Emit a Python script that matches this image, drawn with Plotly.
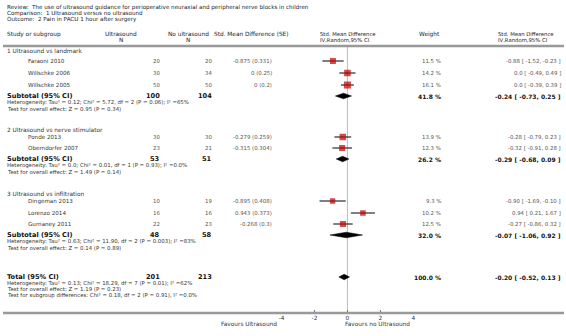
import plotly.graph_objects as go

W, H = 566, 336

# ---------------- data ----------------
group_names = ["1 Ultrasound vs landmark", "2 Ultrasound vs nerve stimulator", "3 Ultrasound vs infiltration"]
studies = [
    ["Faraoni 2010", "Willschke 2006", "Willschke 2005"],
    ["Ponde 2013", "Oberndorfer 2007"],
    ["Dingeman 2013", "Lorenzo 2014", "Gurnaney 2011"],
]
n_us = [[20, 30, 50], [30, 23], [10, 16, 22]]
n_no = [[20, 34, 50], [30, 21], [19, 16, 23]]
smd_se_text = [["-0.875 (0.331)", "0 (0.25)", "0 (0.2)"],
               ["-0.279 (0.259)", "-0.315 (0.304)"],
               ["-0.895 (0.408)", "0.943 (0.373)", "-0.268 (0.3)"]]
weight = [[11.5, 14.2, 16.1], [13.9, 12.3], [9.3, 10.2, 12.5]]
est = [[-0.88, 0.0, 0.0], [-0.28, -0.32], [-0.90, 0.94, -0.27]]
lo = [[-1.52, -0.49, -0.39], [-0.79, -0.91], [-1.69, 0.21, -0.86]]
hi = [[-0.23, 0.49, 0.39], [0.23, 0.28], [-0.10, 1.67, 0.32]]
est_txt = [["-0.88", "0.0", "0.0"], ["-0.28", "-0.32"], ["-0.90", "0.94", "-0.27"]]
lo_txt = [["-1.52", "-0.49", "-0.39"], ["-0.79", "-0.91"], ["-1.69", "0.21", "-0.86"]]
hi_txt = [["-0.23", "0.49", "0.39"], ["0.23", "0.28"], ["-0.10", "1.67", "0.32"]]

sub_n_us = [100, 53, 48]
sub_n_no = [104, 51, 58]
sub_weight = ["41.8", "26.2", "32.0"]
sub_est = [-0.24, -0.29, -0.07]
sub_lo = [-0.73, -0.68, -1.06]
sub_hi = [0.25, 0.09, 0.92]
sub_est_txt = ["-0.24", "-0.29", "-0.07"]
sub_lo_txt = ["-0.73", "-0.68", "-1.06"]
sub_hi_txt = ["0.25", "0.09", "0.92"]
sub_het = ["Heterogeneity: Tau² = 0.12; Chi² = 5.72, df = 2 (P = 0.06); I² =65%",
           "Heterogeneity: Tau² = 0.0; Chi² = 0.01, df = 1 (P = 0.93); I² =0.0%",
           "Heterogeneity: Tau² = 0.63; Chi² = 11.90, df = 2 (P = 0.003); I² =83%"]
sub_test = ["Test for overall effect: Z = 0.95 (P = 0.34)",
            "Test for overall effect: Z = 1.49 (P = 0.14)",
            "Test for overall effect: Z = 0.14 (P = 0.89)"]

tot_n_us, tot_n_no = 201, 213
tot_weight = "100.0"
tot_est, tot_lo, tot_hi = -0.20, -0.52, 0.13
tot_txt = ("-0.20", "-0.52", "0.13")
tot_lines = ["Heterogeneity: Tau² = 0.13; Chi² = 18.29, df = 7 (P = 0.01); I² =62%",
             "Test for overall effect: Z = 1.19 (P = 0.23)",
             "Test for subgroup differences: Chi² = 0.18, df = 2 (P = 0.91), I² =0.0%"]

title_lines = ["Review:  The use of ultrasound guidance for perioperative neuraxial and peripheral nerve blocks in children",
               "Comparison:  1 Ultrasound versus no ultrasound",
               "Outcome:  2 Pain in PACU 1 hour after surgery"]
tick_vals = [-4, -2, 0, 2, 4]
favours_left = "Favours Ultrasound"
favours_right = "Favours no Ultrasound"

# ---------------- layout positions (pixels) ----------------
title_y = [7, 13, 19]
hdr_y1, hdr_y2, hdr_line_y = 34, 40, 46
group_head_y = [51, 130, 194]
study_y = [[61, 73, 85], [137, 148], [201, 213, 224]]
sub_y = [96, 159, 235]
tot_y = 277
axis_y = 313

FONT = "DejaVu Sans"
C_TXT = "#333333"
C_VAL = "#555555"
C_BOLD = "#111111"
RED = "#C00000"

X_NAME, X_STUDY = 2, 23
X_NUS, X_NNO, X_SE = 160, 213, 273
X_W, X_CI = 444, 565

annots = []


def txt(x, y, s, size=5.6, color=C_TXT, anchor="left", bold=False):
    if bold:
        s = "<b>" + s + "</b>"
    annots.append(dict(x=x / W, y=y, xref="paper", yref="y", text=s, showarrow=False,
                       xanchor=anchor, yanchor="middle", align=anchor,
                       font=dict(family=FONT, size=size, color=color)))


for s, y in zip(title_lines, title_y):
    txt(X_NAME, y, s, size=5.6, color="#222222")

# headers
txt(X_NAME, hdr_y1, "Study or subgroup", 5.8, "#222222")
txt(119, hdr_y1, "Ultrasound", 5.8, "#222222", "center")
txt(119, hdr_y2, "N", 5.8, "#222222", "center")
txt(187, hdr_y1, "No ultrasound", 5.8, "#222222", "center")
txt(187, hdr_y2, "N", 5.8, "#222222", "center")
txt(251, hdr_y1, "Std. Mean Difference (SE)", 5.8, "#222222", "center")
txt(318, hdr_y1, "Std. Mean Difference", 5.3, "#222222")
txt(318, hdr_y2, "IV,Random,95% CI", 5.3, "#222222")
txt(418, hdr_y1, "Weight", 5.8, "#222222")
txt(497, hdr_y1, "Std. Mean Difference", 5.3, "#222222")
txt(497, hdr_y2, "IV,Random,95% CI", 5.3, "#222222")

sq_x, sq_y, sq_s = [], [], []
ci_x, ci_y = [], []
dia_x, dia_y = [], []


def diamond(e, l, h, y, hh=2.8):
    dia_x.extend([l, e, h, e, l, None])
    dia_y.extend([y, y - hh, y, y + hh, y, None])


for g in range(3):
    txt(X_NAME, group_head_y[g], group_names[g], 5.8, C_TXT)
    for i, name in enumerate(studies[g]):
        y = study_y[g][i]
        txt(X_STUDY, y, name, 5.6, C_TXT)
        txt(X_NUS, y, str(n_us[g][i]), 5.4, C_VAL, "right")
        txt(X_NNO, y, str(n_no[g][i]), 5.4, C_VAL, "right")
        txt(X_SE, y, smd_se_text[g][i], 5.4, C_VAL, "right")
        txt(X_W, y, f"{weight[g][i]} %", 5.4, C_VAL, "right")
        txt(X_CI, y, f"{est_txt[g][i]} [ {lo_txt[g][i]}, {hi_txt[g][i]} ]", 5.4, C_VAL, "right")
        sq_x.append(est[g][i]); sq_y.append(y); sq_s.append(1.75 * weight[g][i] ** 0.5)
        ci_x.extend([lo[g][i], hi[g][i], None]); ci_y.extend([y, y, None])
    y = sub_y[g]
    txt(X_NAME, y, "Subtotal (95% CI)", 6.6, C_BOLD, bold=True)
    txt(X_NUS, y, str(sub_n_us[g]), 6.6, C_BOLD, "right", True)
    txt(X_NNO, y, str(sub_n_no[g]), 6.6, C_BOLD, "right", True)
    txt(X_W, y, f"{sub_weight[g]} %", 6.0, C_BOLD, "right", True)
    txt(X_CI, y, f"{sub_est_txt[g]} [ {sub_lo_txt[g]}, {sub_hi_txt[g]} ]", 6.0, C_BOLD, "right", True)
    txt(X_NAME, y + 6, sub_het[g], 5.4, C_TXT)
    txt(X_NAME, y + 13, sub_test[g], 5.4, C_TXT)
    diamond(sub_est[g], sub_lo[g], sub_hi[g], y)

txt(X_NAME, tot_y, "Total (95% CI)", 6.6, C_BOLD, bold=True)
txt(X_NUS, tot_y, str(tot_n_us), 6.6, C_BOLD, "right", True)
txt(X_NNO, tot_y, str(tot_n_no), 6.6, C_BOLD, "right", True)
txt(X_W, tot_y, f"{tot_weight} %", 6.0, C_BOLD, "right", True)
txt(X_CI, tot_y, f"{tot_txt[0]} [ {tot_txt[1]}, {tot_txt[2]} ]", 6.0, C_BOLD, "right", True)
for k, s in enumerate(tot_lines):
    txt(X_NAME, tot_y + 6 + 6 * k, s, 5.4, C_TXT)
diamond(tot_est, tot_lo, tot_hi, tot_y)

txt(278, 324, favours_left, 5.8, C_TXT, "right")
txt(343, 324, favours_right, 5.8, C_TXT, "left")

fig = go.Figure()
fig.add_trace(go.Scatter(x=ci_x, y=ci_y, mode="lines", line=dict(color="black", width=1),
                         hoverinfo="skip", showlegend=False))
fig.add_trace(go.Scatter(x=sq_x, y=sq_y, mode="markers",
                         marker=dict(symbol="square", size=sq_s, color=RED, line=dict(width=0)),
                         showlegend=False))
fig.add_trace(go.Scatter(x=dia_x, y=dia_y, mode="lines", fill="toself", fillcolor="black",
                         line=dict(color="black", width=0.5), showlegend=False))

shapes = [
    dict(type="line", xref="paper", yref="y", x0=0, x1=1, y0=hdr_line_y, y1=hdr_line_y,
         line=dict(color="#999999", width=2.5)),
    dict(type="line", xref="paper", yref="y", x0=0, x1=1, y0=axis_y, y1=axis_y,
         line=dict(color="#999999", width=2.5)),
    dict(type="line", xref="x", yref="y", x0=0, x1=0, y0=hdr_line_y + 1, y1=axis_y - 1,
         line=dict(color="#BBBBBB", width=1), layer="below"),
]

fig.update_layout(
    width=W, height=H, margin=dict(l=0, r=0, t=0, b=0),
    paper_bgcolor="white", plot_bgcolor="white",
    xaxis=dict(domain=[281 / W, 414 / W], range=[-4, 4], tickvals=tick_vals,
               ticktext=[str(v) for v in tick_vals], showgrid=False, zeroline=False,
               showline=False, ticks="inside", ticklen=3, tickcolor="#777777",
               tickfont=dict(family=FONT, size=5.8, color="#333333"),
               anchor="free", position=1 - axis_y / H, fixedrange=True),
    yaxis=dict(domain=[0, 1], range=[H, 0], visible=False, fixedrange=True),
    annotations=annots, shapes=shapes, showlegend=False,
)

fig.write_html("out.html", config={"displayModeBar": False},
               post_script="document.body.style.margin='0';document.body.style.padding='0';document.body.style.overflow='hidden';")
